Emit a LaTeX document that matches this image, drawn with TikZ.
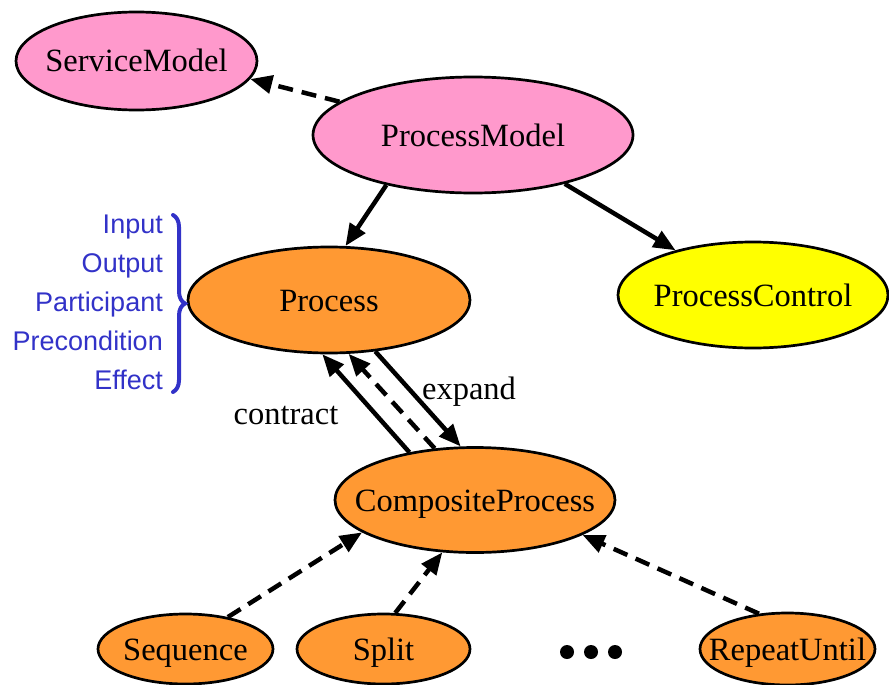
\documentclass[tikz,border=0pt]{standalone}
\usepackage{fontspec}
\setmainfont{Liberation Serif}
\newfontfamily\sansblue{Liberation Sans}
\usetikzlibrary{shapes.geometric,arrows.meta,decorations.pathreplacing}
\definecolor{pinkfill}{RGB}{255,153,204}
\definecolor{orangefill}{RGB}{255,153,51}
\definecolor{yellowfill}{RGB}{255,255,0}
\definecolor{paramblue}{RGB}{50,50,200}
\begin{document}
\begin{tikzpicture}[x=1pt,y=-1pt,
  ell/.style={ellipse,draw=black,line width=2.7pt,inner sep=0pt,text height=28pt,text depth=6pt,font=\fontsize{32.5}{36}\selectfont},
  arr/.style={line width=4.5pt,-{Triangle[length=22pt,width=18pt]}},
  darr/.style={arr,dash pattern=on 15pt off 9pt},
  lbl/.style={font=\fontsize{32.5}{36}\selectfont,inner sep=0pt},
  dotnode/.style={circle,fill=black,minimum size=14pt,inner sep=0pt}]
\useasboundingbox (0,0) rectangle (889,685);
% nodes
\node[ell,fill=pinkfill,minimum width=241pt,minimum height=98pt] (sm) at (136.5,61) {\makebox[0pt]{ServiceModel}};
\node[ell,fill=pinkfill,minimum width=320pt,minimum height=116pt] (pm) at (473,135) {\makebox[0pt]{ProcessModel}};
\node[ell,fill=orangefill,minimum width=282pt,minimum height=106pt] (process) at (329,300) {\makebox[0pt]{Process}};
\node[ell,fill=yellowfill,minimum width=270pt,minimum height=106pt] (pc) at (753,295) {\makebox[0pt]{ProcessControl}};
\node[ell,fill=orangefill,minimum width=280pt,minimum height=105pt] (cp) at (475,500) {\makebox[0pt]{CompositeProcess}};
\node[ell,fill=orangefill,minimum width=175pt,minimum height=70pt] (seq) at (185.5,649) {\makebox[0pt]{Sequence}};
\node[ell,fill=orangefill,minimum width=173pt,minimum height=70pt] (split) at (383.5,649) {\makebox[0pt]{Split}};
\node[ell,fill=orangefill,minimum width=175pt,minimum height=72pt] (ru) at (787.5,649) {\makebox[0pt]{RepeatUntil}};
% dots
\node[dotnode] (d1) at (567,652) {};
\node[dotnode] (d2) at (591,652) {};
\node[dotnode] (d3) at (615,652) {};
% labels
\node[lbl] (contract) at (286,416) {contract};
\node[lbl] (expand) at (469,392) {expand};
\node[anchor=east,align=right,inner sep=0pt,text=paramblue,font=\sansblue\fontsize{27}{39}\selectfont] (params) at (163,302) {Input\\Output\\Participant\\Precondition\\Effect};
\draw[paramblue,line width=4pt,line cap=round,decorate,decoration={brace,amplitude=12pt}] (173,215) -- (173,392);
% connectors
\draw[darr] (pm.166) -- (sm.-9);
\draw[arr] (pm.-150) -- (process.73);
\draw[arr] (pm.-28.5) -- (pc.150);
\draw[arr] (cp.144) -- (process.-97);
\draw[darr] (cp.128) -- (process.-70);
\draw[arr] (process.-48) -- (cp.105);
\draw[darr] (seq.37) -- (cp.-164);
\draw[darr] (split.72) -- (cp.-122);
\draw[darr] (ru.129) -- (cp.-18);
\end{tikzpicture}
\end{document}
